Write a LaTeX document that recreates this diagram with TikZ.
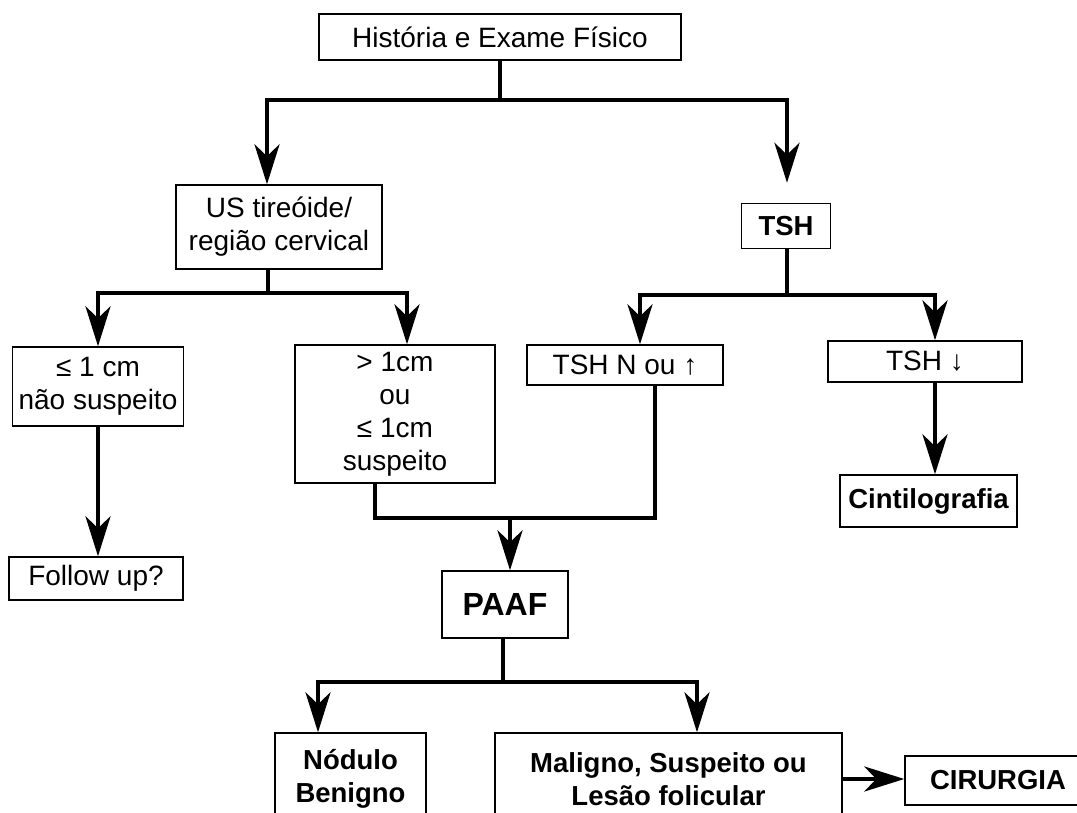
\documentclass[tikz,border=0pt]{standalone}
\usepackage{fontspec}
\setmainfont{Liberation Sans}
\usetikzlibrary{arrows.meta}

\begin{document}
\begin{tikzpicture}[x=1pt,y=-1pt,
    box/.style={draw, line width=1.4pt, align=center, inner sep=0pt, font=\fontsize{28}{33}\selectfont},
    bbox/.style={box, font=\fontsize{27.5}{33}\selectfont\bfseries},
    line/.style={line width=4.5pt, line join=miter},
    arr/.style={line, -{Stealth[length=40pt,width=25pt,inset=12pt]}}]
    \useasboundingbox (0,0) rectangle (1077,812);
    \clip (0,0) rectangle (1077,812);

    \node[box, minimum width=362pt, minimum height=46pt] (hist) at (500,37) {História e Exame Físico};
    \node[box, minimum width=206pt, minimum height=84pt] (us) at (279,227) {US tireóide/\\região cervical};
    \node[bbox, minimum width=89pt, minimum height=45pt] (tsh) at (786,226) {TSH};
    \node[box, minimum width=171pt, minimum height=79pt] (leq) at (98,386.5) {≤ 1 cm\\não suspeito};
    \node[box, minimum width=200pt, minimum height=138pt] (gt) at (395,414) {> 1cm\\ou\\≤ 1cm\\suspeito};
    \node[box, minimum width=196pt, minimum height=40pt] (tshn) at (625,365) {TSH N ou ↑};
    \node[box, minimum width=194pt, minimum height=41pt] (tshd) at (925,361.5) {TSH ↓};
    \node[bbox, minimum width=177pt, minimum height=52pt] (cint) at (928.5,501) {Cintilografia};
    \node[box, minimum width=174pt, minimum height=43pt] (follow) at (96,578.5) {Follow up?};
    \node[bbox, minimum width=126pt, minimum height=67pt, font=\fontsize{32}{38}\selectfont\bfseries] (paaf) at (505,604.5) {PAAF};
    \node[bbox, minimum width=151pt, minimum height=92pt] (nod) at (350.5,779) {Nódulo\\Benigno};
    \node[bbox, minimum width=347pt, minimum height=92pt] (mal) at (668.5,779) {Maligno, Suspeito ou\\Lesão folicular};
    \node[bbox, minimum width=186pt, minimum height=49pt] (cir) at (998,780.5) {CIRURGIA};

    \coordinate (b1) at (500,100);
    \coordinate (b1l) at (267,100);
    \coordinate (b1r) at (787,100);
    \draw[line] (hist.south) -- (b1);
    \draw[arr] (b1) -- (b1l) -- (b1l |- us.north);
    \draw[arr, shorten >=20pt] (b1) -- (b1r) -- (b1r |- tsh.north);

    \coordinate (b2) at (268,293);
    \coordinate (b2l) at (98,293);
    \coordinate (b2r) at (407,293);
    \draw[line] (b2 |- us.south) -- (b2);
    \draw[arr] (b2) -- (b2l) -- (b2l |- leq.north);
    \draw[arr] (b2) -- (b2r) -- (b2r |- gt.north);
    \draw[arr] (leq.south) -- (leq.south |- follow.north);

    \coordinate (b3) at (787,295);
    \coordinate (b3l) at (640,295);
    \coordinate (b3r) at (935,295);
    \draw[line] (b3 |- tsh.south) -- (b3);
    \draw[arr] (b3) -- (b3l) -- (b3l |- tshn.north);
    \draw[arr] (b3) -- (b3r) -- (b3r |- tshd.north);
    \draw[arr] (b3r |- tshd.south) -- (b3r |- cint.north);

    \coordinate (j1) at (375,518);
    \coordinate (j2) at (655,518);
    \coordinate (j3) at (510,518);
    \draw[line] (j1 |- gt.south) -- (j1) -- (j2) -- (j2 |- tshn.south);
    \draw[arr] (j3) -- (j3 |- paaf.north);

    \coordinate (b4) at (503,682);
    \coordinate (b4l) at (318,682);
    \coordinate (b4r) at (697,682);
    \draw[line] (b4 |- paaf.south) -- (b4);
    \draw[arr] (b4) -- (b4l) -- (b4l |- nod.north);
    \draw[arr] (b4) -- (b4r) -- (b4r |- mal.north);
    \draw[arr] (mal.east) -- (mal.east -| cir.west);

\end{tikzpicture}
\end{document}
